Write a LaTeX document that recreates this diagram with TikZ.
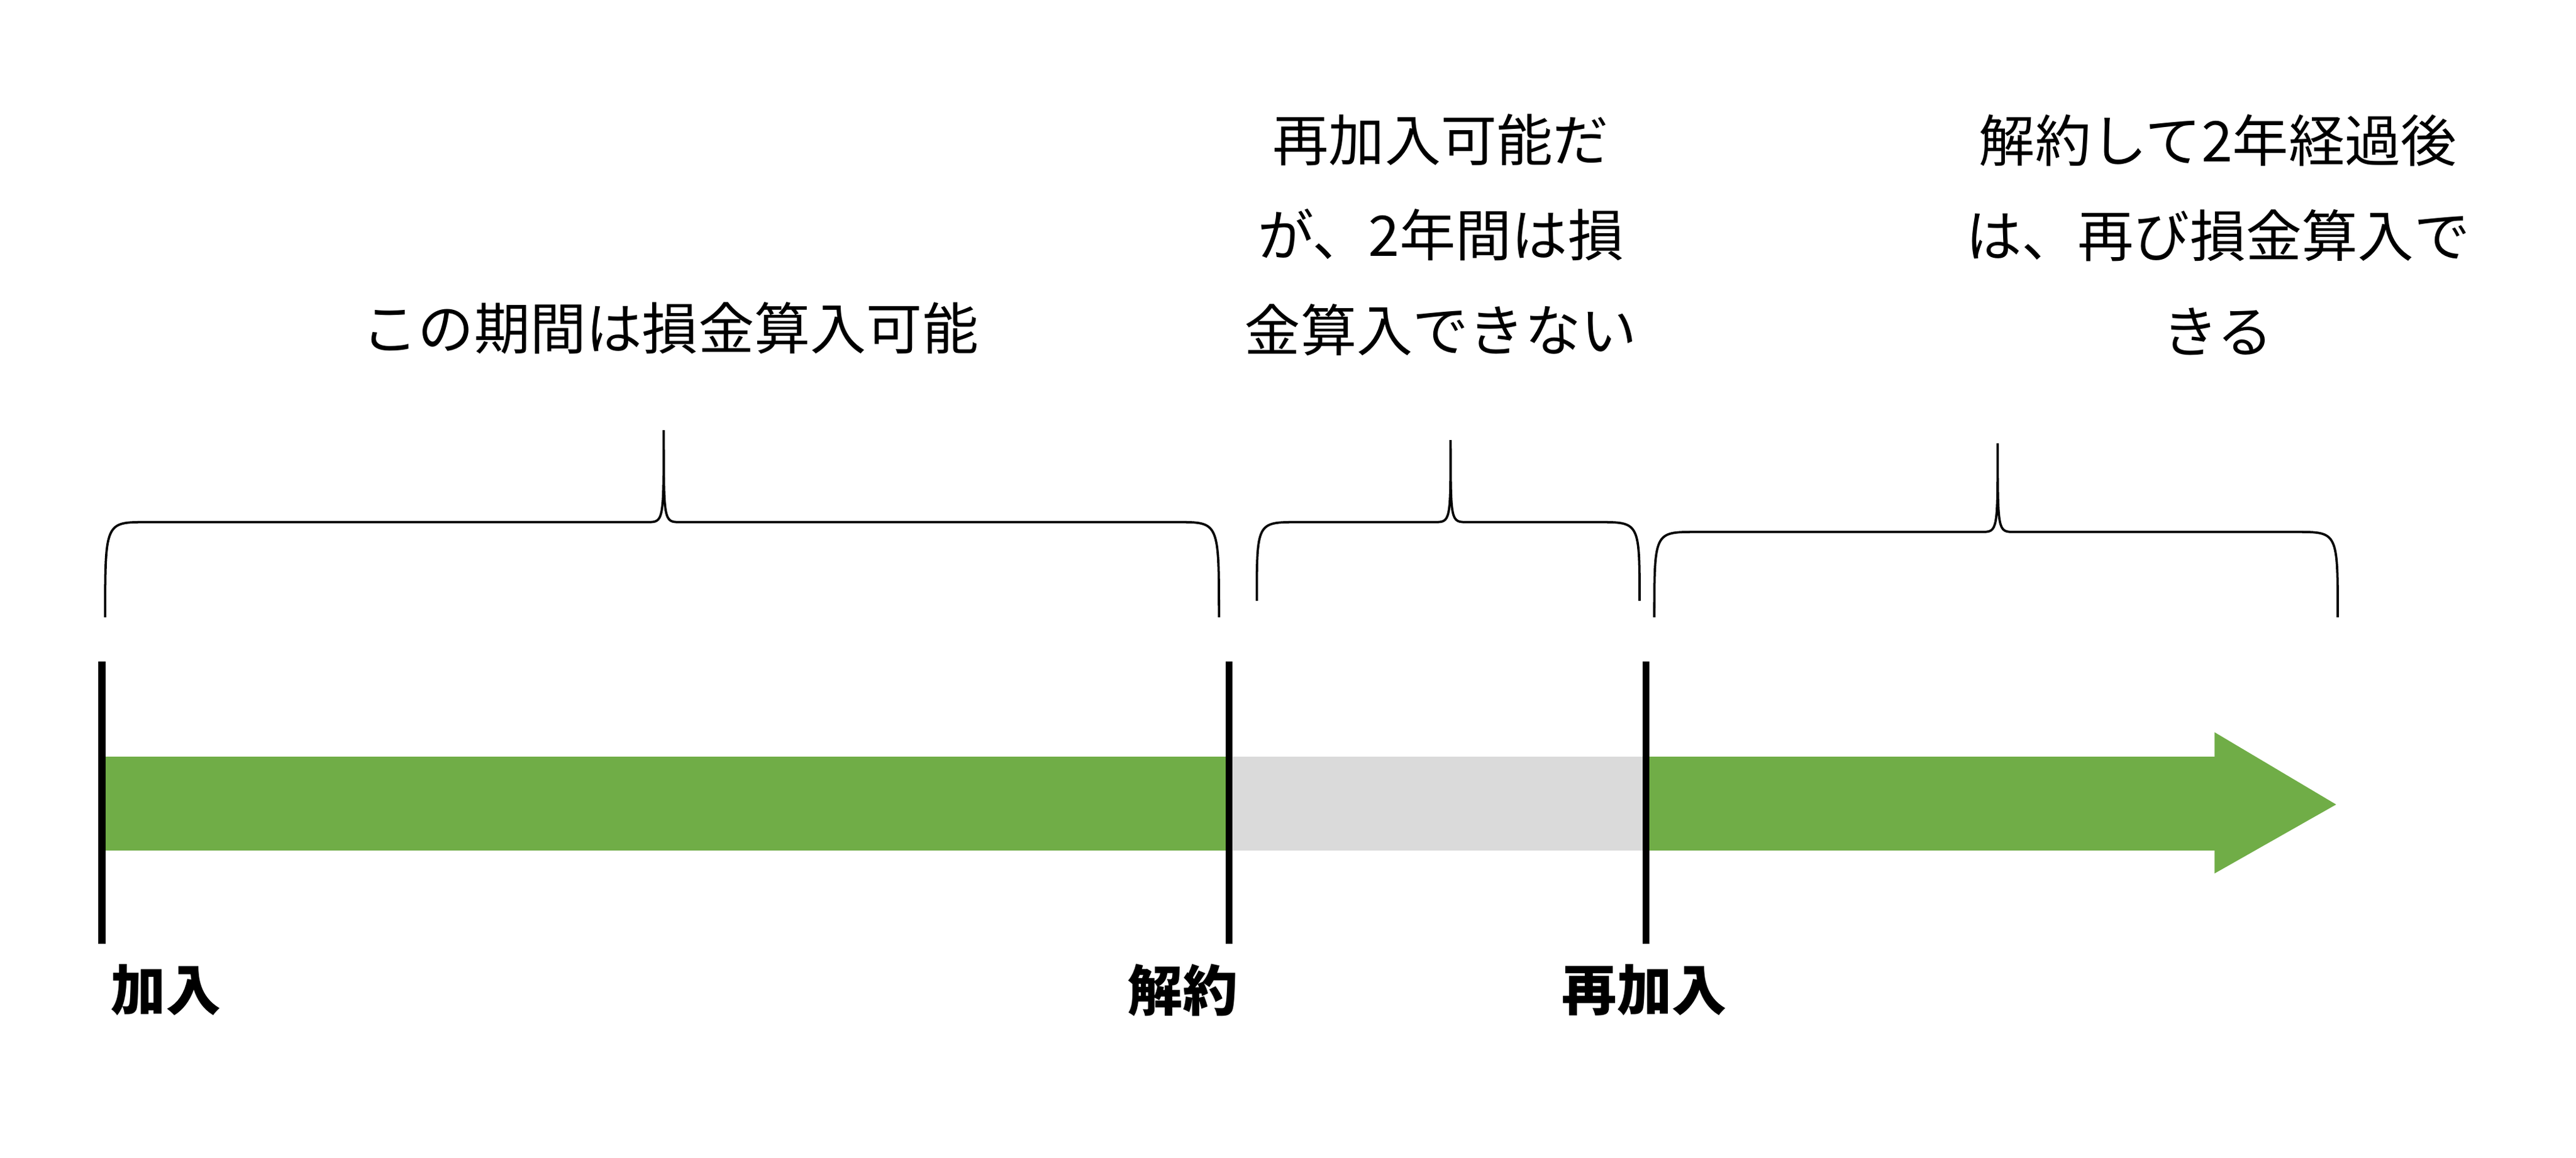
\documentclass[tikz,border=0pt]{standalone}
\usepackage{fontspec}
\setmainfont{Noto Sans CJK JP}
\usetikzlibrary{positioning}
\definecolor{barGreen}{HTML}{70AD47}
\definecolor{barGray}{HTML}{DADADA}
\tikzset{
  note/.style={font=\fontsize{9.7pt}{16.5pt}\selectfont, align=center},
  eventlabel/.style={font=\bfseries\fontsize{9.5pt}{12pt}\selectfont},
  tickline/.style={line width=1.2pt},
  curly/.style={line width=0.4pt}
}
% brace: x1, x2, tip x, bottom y, line y, tip y
\newcommand{\timebrace}[6]{%
  \draw[curly] (#1,#4) .. controls (#1,#5) and (#1,#5) .. ({#1+25},#5)
    -- ({#3-10},#5) .. controls (#3,#5) and (#3,#5) .. (#3,#6)
    .. controls (#3,#5) and (#3,#5) .. ({#3+10},#5)
    -- ({#2-25},#5) .. controls (#2,#5) and (#2,#5) .. (#2,#4);}
\begin{document}
\begin{tikzpicture}[x=0.01cm,y=-0.01cm]
\useasboundingbox (0,0) rectangle (1568,705);
% bars
\fill[barGreen] (62,461) rectangle (748,518);
\fill[barGray] (748,461) rectangle (1002,518);
\fill[barGreen] (1002,461) rectangle (1349,518);
\fill[barGreen] (1348,446) -- (1422,490) -- (1348,532) -- cycle;
% ticks
\coordinate (t0) at (62,403);
\coordinate (t1) at (748,403);
\coordinate (t2) at (1002,403);
\draw[tickline] (t0) -- ++(0,172);
\draw[tickline] (t1) -- ++(0,172);
\draw[tickline] (t2) -- ++(0,172);
\node[eventlabel] (join) at (101,603) {加入};
\node[eventlabel] (cancel) at (720,603) {解約};
\node[eventlabel] (rejoin) at (1001,603) {再加入};
% braces
\timebrace{64}{742}{404}{376}{318}{262}
\timebrace{765}{998}{883}{366}{318}{268}
\timebrace{1007}{1423}{1216}{376}{324}{270}
% notes
\node[note] (n1) at (408,200) {この期間は損金算入可能};
\node[note] (n2) at (877,143) {再加入可能だ\\が、2年間は損\\金算入できない};
\node[note] (n3) at (1350,143) {解約して2年経過後\\は、再び損金算入で\\きる};
\end{tikzpicture}
\end{document}
